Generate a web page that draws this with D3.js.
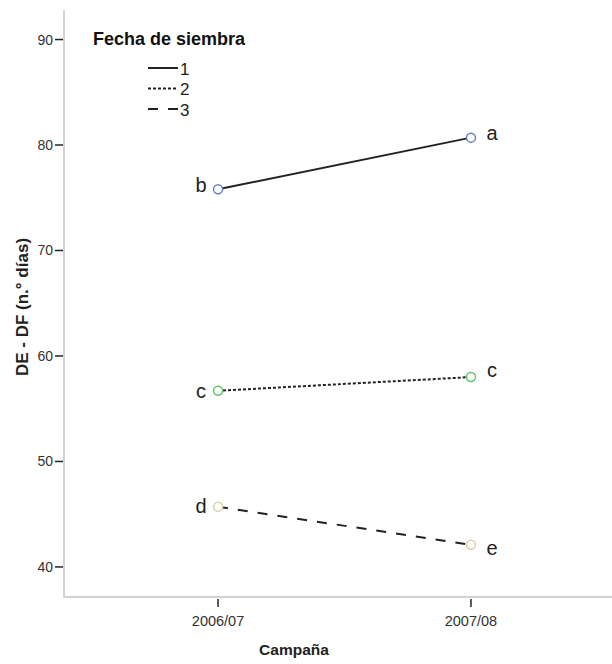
<!DOCTYPE html>
<html>
<head>
<meta charset="utf-8">
<script src="https://cdn.jsdelivr.net/npm/d3@7"></script>
<style>
  body { margin: 0; background: #fff; }
  text { font-family: Arial, "Liberation Sans", sans-serif; }
</style>
</head>
<body>
<div id="chart"></div>
<script>
// Datos
const campanas = ["2006/07", "2007/08"];
const fechas = ["1", "2", "3"];
const fecha1 = [75.8, 80.7];
const fecha2 = [56.7, 58.0];
const fecha3 = [45.7, 42.1];
const letras1 = ["b", "a"];
const letras2 = ["c", "c"];
const letras3 = ["d", "e"];
const yTicks = [40, 50, 60, 70, 80, 90];

const series = [
  { name: fechas[0], values: fecha1, letters: letras1, dash: null, marker: "#6a7ec8" },
  { name: fechas[1], values: fecha2, letters: letras2, dash: "3,2", marker: "#5cc56c" },
  { name: fechas[2], values: fecha3, letters: letras3, dash: "10,10", marker: "#d9d2a6" }
];

// Desplazamiento vertical de las letras (izquierda, derecha)
const letterDy = [[3, 2], [7, 0], [6, 10]];

const width = 612, height = 664;
const svg = d3.select("#chart").append("svg")
  .attr("width", width)
  .attr("height", height);

// Escalas
const x = d3.scalePoint().domain(campanas).range([63, 626]).padding(0.613);
const y = d3.scaleLinear().domain([37.15, 92.8]).range([597, 10]);

// Ejes (líneas grises)
svg.append("line")
  .attr("x1", 64).attr("x2", 64).attr("y1", 10).attr("y2", 597)
  .attr("stroke", "#d2d2d2").attr("stroke-width", 2);
svg.append("line")
  .attr("x1", 63).attr("x2", width).attr("y1", 597).attr("y2", 597)
  .attr("stroke", "#d2d2d2").attr("stroke-width", 2);

// Ticks eje Y
const yAxis = svg.append("g");
yAxis.selectAll("line").data(yTicks).enter().append("line")
  .attr("x1", 55).attr("x2", 63)
  .attr("y1", d => y(d)).attr("y2", d => y(d))
  .attr("stroke", "#222").attr("stroke-width", 1.5);
yAxis.selectAll("text").data(yTicks).enter().append("text")
  .attr("x", 53).attr("y", d => y(d) + 5)
  .attr("text-anchor", "end")
  .attr("fill", "#333")
  .style("font-size", "14px")
  .text(d => d);

// Ticks eje X
const xAxis = svg.append("g");
xAxis.selectAll("line").data(campanas).enter().append("line")
  .attr("x1", d => x(d)).attr("x2", d => x(d))
  .attr("y1", 599).attr("y2", 607)
  .attr("stroke", "#222").attr("stroke-width", 1.5);
xAxis.selectAll("text").data(campanas).enter().append("text")
  .attr("x", d => x(d)).attr("y", 626)
  .attr("text-anchor", "middle")
  .attr("fill", "#333")
  .style("font-size", "14.5px")
  .text(d => d);

// Títulos de ejes
svg.append("text")
  .attr("x", 294).attr("y", 655)
  .attr("text-anchor", "middle")
  .attr("fill", "#222")
  .style("font-size", "15.5px")
  .style("font-weight", "bold")
  .text("Campaña");

svg.append("text")
  .attr("transform", "translate(28,307) rotate(-90)")
  .attr("text-anchor", "middle")
  .attr("fill", "#222")
  .style("font-size", "17px")
  .style("font-weight", "bold")
  .text("DE - DF (n.° días)");

// Líneas
const line = d3.line()
  .x((d, i) => x(campanas[i]))
  .y(d => y(d));

series.forEach((s, k) => {
  svg.append("path")
    .attr("d", line(s.values))
    .attr("fill", "none")
    .attr("stroke", "#222")
    .attr("stroke-width", 2)
    .attr("stroke-dasharray", s.dash);

  svg.selectAll(null).data(s.values).enter().append("circle")
    .attr("cx", (d, i) => x(campanas[i]))
    .attr("cy", d => y(d))
    .attr("r", 4.5)
    .attr("fill", "white")
    .attr("stroke", s.marker)
    .attr("stroke-width", 1.5);

  // Letras de significancia
  svg.selectAll(null).data(s.values).enter().append("text")
    .attr("x", (d, i) => x(campanas[i]) + (i === 0 ? -17 : 21))
    .attr("y", (d, i) => y(d) + letterDy[k][i])
    .attr("text-anchor", "middle")
    .attr("fill", "#222")
    .style("font-size", "20px")
    .text((d, i) => s.letters[i]);
});

// Leyenda
svg.append("text")
  .attr("x", 93).attr("y", 45)
  .attr("fill", "#111")
  .style("font-size", "18px")
  .style("font-weight", "bold")
  .text("Fecha de siembra");

const legend = svg.append("g");
series.forEach((s, i) => {
  const ly = 68 + i * 20.5;
  legend.append("line")
    .attr("x1", 148).attr("x2", 178)
    .attr("y1", ly).attr("y2", ly)
    .attr("stroke", "#222")
    .attr("stroke-width", 2)
    .attr("stroke-dasharray", s.dash);
  legend.append("text")
    .attr("x", 180).attr("y", ly + 6.5)
    .attr("fill", "#222")
    .style("font-size", "17px")
    .text(s.name);
});
</script>
</body>
</html>
